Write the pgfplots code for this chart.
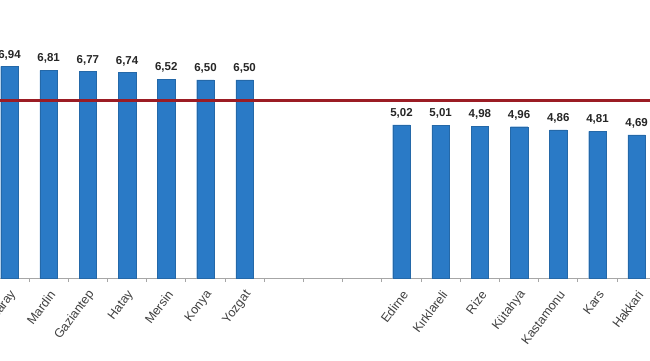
\documentclass[border=0pt]{standalone}
\usepackage{pgfplots}
\pgfplotsset{compat=1.18}
\usepackage{fontspec}
\setmainfont{Liberation Sans}
\definecolor{barblue}{HTML}{2A7AC6}
\definecolor{avgred}{HTML}{9B1C24}
\definecolor{axisgrey}{HTML}{A6A6A6}
\definecolor{labgrey}{HTML}{404040}
\begin{document}
\begin{tikzpicture}
\clip (0pt,-82pt) rectangle (650pt,278pt);
\begin{axis}[
  at={(0pt,0pt)}, anchor=south west,
  scale only axis, width=650pt, height=278pt,
  xmin=-0.242, xmax=16.34, ymin=0, ymax=9.115,
  axis x line*=bottom, axis y line=none,
  x axis line style={axisgrey, line width=0.8pt, -},
  xtick={0,...,16},
  xticklabels={Aksaray,Mardin,Gaziantep,Hatay,Mersin,Konya,Yozgat,,,,Edirne,Kırklareli,Rize,Kütahya,Kastamonu,Kars,Hakkari},
  major tick length=0pt,
  minor xtick={-0.5,0.5,...,16.5},
  minor tick length=4pt,
  tick align=outside,
  minor tick style={axisgrey, line width=0.8pt},
  xticklabel style={rotate=53, anchor=east, font=\fontsize{12.5}{14}\selectfont, text=labgrey, yshift=-11.7pt, xshift=-5.6pt},
  clip=true,
]
\addplot[ybar, bar width=17.5pt, fill=barblue, draw=barblue!85!black, line width=0.4pt,
  nodes near coords,
  nodes near coords style={font=\bfseries\fontsize{11.5}{13}\selectfont, text=black!85, anchor=south, yshift=3pt,
    /pgf/number format/.cd, use comma, fixed, fixed zerofill, precision=2, assume math mode=true},
] coordinates {
  (0,6.94) (1,6.81) (2,6.77) (3,6.74) (4,6.52) (5,6.50) (6,6.50)
  (10,5.02) (11,5.01) (12,4.98) (13,4.96) (14,4.86) (15,4.81) (16,4.69)
};
\addplot[avgred, line width=3pt, forget plot] coordinates {(-1,5.83) (17,5.83)};
\end{axis}
\end{tikzpicture}
\end{document}
